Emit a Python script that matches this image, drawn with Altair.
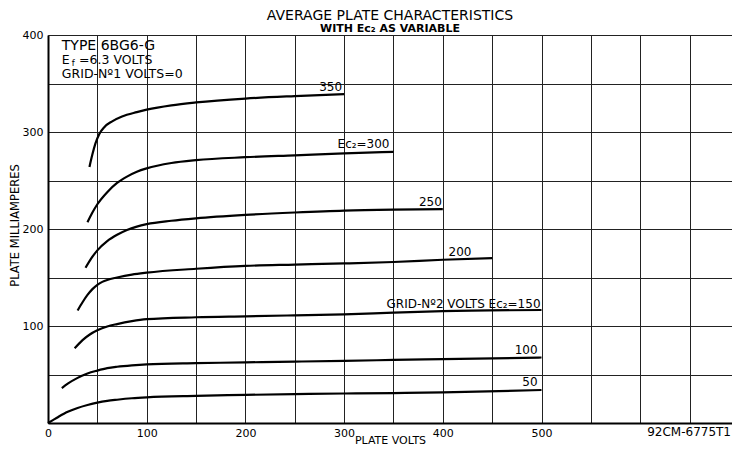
import altair as alt
import pandas as pd

# ---- data (plate volts, plate mA) ----
ec2_350_v = [42, 45, 48, 52, 57, 65, 75, 90, 100, 125, 150, 200, 250, 300]
ec2_350_i = [264, 277, 288, 298, 305, 311, 316, 320.5, 323, 327.5, 330.5, 334.5, 337, 339]

ec2_300_v = [40, 45, 50, 60, 70, 80, 90, 100, 125, 150, 200, 250, 300, 350]
ec2_300_i = [207, 217, 225.5, 238, 247.5, 254, 259, 262.5, 268, 271, 274, 276, 278, 279.5]

ec2_250_v = [38, 44, 50, 60, 70, 80, 90, 100, 125, 150, 200, 250, 300, 350, 400]
ec2_250_i = [160, 170, 178, 187.5, 194, 199, 202.5, 205, 208.5, 211, 214.5, 217, 219, 220, 220.5]

ec2_200_v = [30, 35, 40, 45, 50, 55, 60, 70, 85, 100, 150, 200, 250, 300, 350, 400, 450]
ec2_200_i = [116, 124.5, 132, 138, 142.5, 145.5, 147.5, 150, 153, 155, 159, 162, 163.3, 164.5, 166, 168.3, 170]

ec2_150_v = [27, 35, 42, 50, 60, 70, 85, 100, 150, 200, 250, 300, 350, 400, 500]
ec2_150_i = [77, 85.5, 91, 95.5, 99.5, 102, 105, 107, 109, 110, 111, 112, 113.8, 115.3, 116.5]

ec2_100_v = [14, 20, 30, 40, 50, 60, 70, 85, 100, 150, 200, 250, 300, 350, 400, 500]
ec2_100_i = [36, 40.5, 46.5, 51, 54, 56.5, 58, 59.5, 60.5, 61.7, 62.5, 63.3, 64, 65, 65.8, 67.5]

ec2_50_v = [0, 5, 10, 20, 30, 40, 50, 60, 70, 85, 100, 150, 200, 250, 300, 350, 400, 500]
ec2_50_i = [0, 3, 6, 11.5, 15.5, 18.5, 21, 22.8, 24, 25.5, 26.5, 28, 29, 29.8, 30.4, 30.9, 31.5, 34]

curve_names = ["350", "300", "250", "200", "150", "100", "50"]
curve_v = [ec2_350_v, ec2_300_v, ec2_250_v, ec2_200_v, ec2_150_v, ec2_100_v, ec2_50_v]
curve_i = [ec2_350_i, ec2_300_i, ec2_250_i, ec2_200_i, ec2_150_i, ec2_100_i, ec2_50_i]

label_text = ["350", "Ec₂=300", "250", "200", "GRID-Nº2 VOLTS Ec₂=150", "100", "50"]
label_v = [298, 346, 399, 429, 499, 496, 496]
label_i = [342, 284, 223.5, 172.5, 119, 71, 38.5]

note_text = ["TYPE 6BG6-G", "GRID-Nº1 VOLTS=0"]
note_v = [14, 14]
note_i = [385, 356]
note_size = [14, 12.5]

x_ticks = list(range(0, 701, 50))
y_ticks = list(range(0, 401, 50))

rows = []
for name, vs, is_ in zip(curve_names, curve_v, curve_i):
    for v, i in zip(vs, is_):
        rows.append({"curve": name, "v": v, "i": i})
df = pd.DataFrame(rows)

labels = pd.DataFrame({"text": label_text, "v": label_v, "i": label_i})
notes = pd.DataFrame({"text": note_text, "v": note_v, "i": note_i, "size": note_size})

FONT = "DejaVu Sans"
PLOT_W, PLOT_H = 684, 388

xs = alt.Scale(domain=[0, 693], nice=False)
ys = alt.Scale(domain=[0, 400], nice=False)

x_axis = alt.Axis(
    values=x_ticks, grid=True, ticks=False,
    labelExpr="(datum.value % 100 == 0 && datum.value <= 500) ? datum.label : ''",
    title="PLATE VOLTS", titleFont=FONT, titleFontSize=11, titleFontWeight="normal",
    titleY=20.5, titleBaseline="alphabetic", titleX=342, titleAlign="center",
    labelFont=FONT, labelFontSize=11, labelPadding=4,
    labelColor="black", titleColor="black", gridColor="#222", gridWidth=1,
    domainColor="black", domainWidth=2, labelFlush=False,
)
y_axis = alt.Axis(
    values=y_ticks, grid=True, ticks=False,
    labelExpr="(datum.value % 100 == 0 && datum.value > 0) ? datum.label : ''",
    title="PLATE MILLIAMPERES", titleFont=FONT, titleFontSize=11.5, titleFontWeight="normal",
    titleX=-33, titleY=190, titleAngle=270, titleAlign="center", titleBaseline="middle",
    labelFont=FONT, labelFontSize=11, labelPadding=5,
    labelColor="black", titleColor="black", gridColor="#222", gridWidth=1,
    domainColor="black", domainWidth=2,
)

lines = alt.Chart(df).mark_line(
    color="black", strokeWidth=2.2, interpolate="monotone"
).encode(
    x=alt.X("v:Q", scale=xs, axis=x_axis),
    y=alt.Y("i:Q", scale=ys, axis=y_axis),
    detail="curve:N",
)

curve_labels = alt.Chart(labels).mark_text(
    align="right", baseline="alphabetic", font=FONT, fontSize=12, color="black"
).encode(x=alt.X("v:Q", scale=xs), y=alt.Y("i:Q", scale=ys), text="text:N")

note_marks = alt.Chart(notes).mark_text(
    align="left", baseline="alphabetic", font=FONT, color="black"
).encode(
    x=alt.X("v:Q", scale=xs), y=alt.Y("i:Q", scale=ys), text="text:N",
    size=alt.Size("size:Q", scale=None, legend=None),
)

ef_e = alt.Chart(pd.DataFrame({"t": ["E"], "v": [14], "i": [370.5]})).mark_text(
    align="left", baseline="alphabetic", font=FONT, fontSize=12.5, color="black"
).encode(x=alt.X("v:Q", scale=xs), y=alt.Y("i:Q", scale=ys), text="t:N")
ef_f = alt.Chart(pd.DataFrame({"t": ["f"], "v": [24], "i": [368.3]})).mark_text(
    align="left", baseline="alphabetic", font=FONT, fontSize=8.5, color="black"
).encode(x=alt.X("v:Q", scale=xs), y=alt.Y("i:Q", scale=ys), text="t:N")
ef_rest = alt.Chart(pd.DataFrame({"t": ["=6.3 VOLTS"], "v": [31.5], "i": [370.5]})).mark_text(
    align="left", baseline="alphabetic", font=FONT, fontSize=12.5, color="black"
).encode(x=alt.X("v:Q", scale=xs), y=alt.Y("i:Q", scale=ys), text="t:N")

code = alt.Chart(pd.DataFrame({"t": ["92CM-6775T1"], "v": [692], "i": [-13.5]})).mark_text(
    align="right", baseline="alphabetic", font=FONT, fontSize=12, color="black"
).encode(x=alt.X("v:Q", scale=xs), y=alt.Y("i:Q", scale=ys), text="t:N")

chart = alt.layer(
    lines, curve_labels, note_marks, ef_e, ef_f, ef_rest, code
).properties(
    width=PLOT_W, height=PLOT_H,
    title=alt.TitleParams(
        text="AVERAGE PLATE CHARACTERISTICS",
        subtitle="WITH Ec₂ AS VARIABLE",
        font=FONT, fontSize=14, fontWeight="normal", color="black",
        subtitleFont=FONT, subtitleFontSize=11, subtitleFontWeight="bold",
        subtitleColor="black", subtitlePadding=0, anchor="middle", offset=2, dy=7,
    ),
    autosize=alt.AutoSizeParams(type="none"),
    padding={"left": 40, "top": 27, "right": 0, "bottom": 24},
).configure_view(
    stroke="black", strokeWidth=2
).configure(background="white")

chart.save("out.html", embed_options={"renderer": "svg", "actions": False})
